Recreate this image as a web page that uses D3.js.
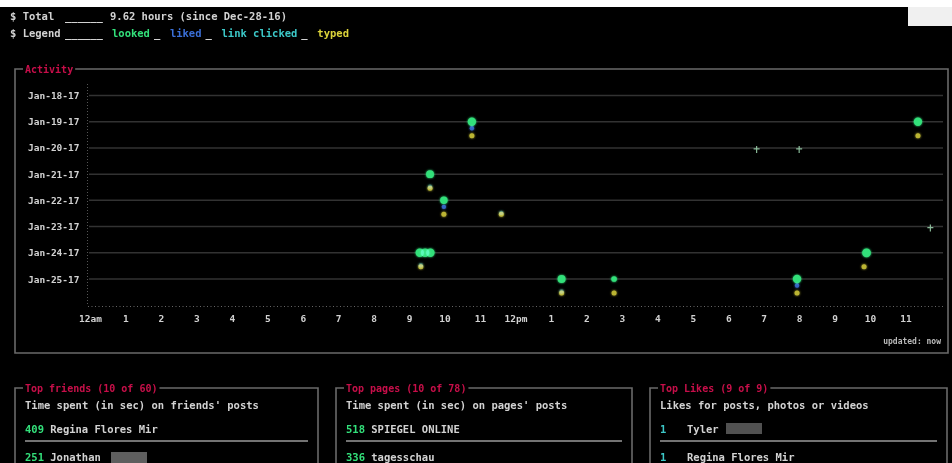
<!DOCTYPE html>
<html><head><meta charset="utf-8">
<script src="https://cdn.jsdelivr.net/npm/d3@7"></script>
<style>
html,body{margin:0;padding:0;background:#000;}
svg{display:block;}
text{font-family:"DejaVu Sans Mono",monospace;font-weight:bold;}
</style></head>
<body>
<script>
// ---- data ----
const days = ["Jan-18-17","Jan-19-17","Jan-20-17","Jan-21-17","Jan-22-17","Jan-23-17","Jan-24-17","Jan-25-17"];
const hourTicks = [0,1,2,3,4,5,6,7,8,9,10,11,12,13,14,15,16,17,18,19,20,21,22,23];
const hourLabels = ["12am","1","2","3","4","5","6","7","8","9","10","11","12pm","1","2","3","4","5","6","7","8","9","10","11"];
// [day, hour of day, seconds]
const looked = [
  ["Jan-19-17",10.77,40],["Jan-19-17",23.35,40],
  ["Jan-20-17",18.8,2],["Jan-20-17",20.0,2],
  ["Jan-21-17",9.59,35],
  ["Jan-22-17",9.98,30],
  ["Jan-23-17",23.7,2],
  ["Jan-24-17",9.3,40],["Jan-24-17",9.45,40],["Jan-24-17",9.6,40],["Jan-24-17",21.9,45],
  ["Jan-25-17",13.3,35],["Jan-25-17",14.78,14],["Jan-25-17",19.94,40]
];
const liked = [["Jan-19-17",10.77],["Jan-22-17",9.98],["Jan-25-17",19.94]];
const clicked = [["Jan-21-17",9.59],["Jan-22-17",11.6],["Jan-24-17",9.33],["Jan-25-17",13.3]];
const typed = [
  ["Jan-19-17",10.77],["Jan-19-17",23.35],
  ["Jan-21-17",9.59],
  ["Jan-22-17",9.98],["Jan-22-17",11.6],
  ["Jan-24-17",9.33],["Jan-24-17",21.83],
  ["Jan-25-17",13.3],["Jan-25-17",14.78],["Jan-25-17",19.94]
];
const summary = ["9.62 hours (since Dec-28-16)"];
const legendItems = ["looked","liked","link clicked","typed"];
const panels = [
  {title:"Top friends (10 of 60)", sub:"Time spent (in sec) on friends' posts", rows:[["409","Regina Flores Mir"],["251","Jonathan"]]},
  {title:"Top pages (10 of 78)", sub:"Time spent (in sec) on pages' posts", rows:[["518","SPIEGEL ONLINE"],["336","tagesschau"]]},
  {title:"Top Likes (9 of 9)", sub:"Likes for posts, photos or videos", rows:[["1","Tyler"],["1","Regina Flores Mir"]]}
];

// ---- styles ----
const W=952,H=463;
const C = {text:"#d2d2d2", red:"#c8104a", green:"#33e07a", blue:"#3a6fd8", cyan:"#3cc8c8", yellow:"#dcd43a", grid:"#333", border:"#6a6a6a"};
const legendColors = [C.green,C.blue,C.cyan,C.yellow];

const svg = d3.select("body").append("svg").attr("width",W).attr("height",H);
const defs = svg.append("defs");
const glow = defs.append("filter").attr("id","glow").attr("x","-100%").attr("y","-100%").attr("width","300%").attr("height","300%");
glow.append("feGaussianBlur").attr("stdDeviation",1.3).attr("result","b");
const fm = glow.append("feMerge"); fm.append("feMergeNode").attr("in","b"); fm.append("feMergeNode").attr("in","SourceGraphic");
const soft = defs.append("filter").attr("id","soft");
soft.append("feGaussianBlur").attr("stdDeviation",0.5);

svg.append("rect").attr("width",W).attr("height",H).attr("fill","#000");
const root = svg.append("g").attr("filter","url(#soft)");

// header lines
const hdr = root.append("g").attr("font-size",10.5).attr("fill",C.text);
hdr.append("text").attr("x",10).attr("y",20).text("$ Total");
hdr.append("text").attr("x",65).attr("y",20).text("______");
hdr.append("text").attr("x",110).attr("y",20).text(summary[0]);
hdr.append("text").attr("x",10).attr("y",37).text("$ Legend");
hdr.append("text").attr("x",65).attr("y",37).text("______");
let lx=112;
legendItems.forEach((t,i)=>{
  hdr.append("text").attr("x",lx).attr("y",37).attr("fill",legendColors[i]).text(t);
  lx += t.length*6.32;
  if(i<legendItems.length-1){ hdr.append("text").attr("x",lx+4).attr("y",37).text("_"); lx += 20; }
});

// frames
function frame(g,b,title){
  g.append("path").attr("d",`M${b.x+8},${b.y}H${b.x+b.w}V${b.y+b.h}H${b.x}V${b.y}H${b.x+8}`)
    .attr("fill","none").attr("stroke",C.border).attr("stroke-width",1.6);
  const tw = title.length*6.02;
  g.append("rect").attr("x",b.x+8).attr("y",b.y-3).attr("width",tw+4).attr("height",6).attr("fill","#000");
  g.append("text").attr("x",b.x+10).attr("y",b.y+3.5).attr("font-size",10).attr("fill",C.red).text(title);
}
const box = {x:15,y:69,w:933,h:284};
frame(root.append("g"),box,"Activity");

const x = d3.scaleLinear().domain([0,24]).range([90,941]);
const y = d3.scalePoint().domain(days).range([95.5,279]);

const plot = root.append("g");
plot.selectAll("line.grid").data(days).join("line").attr("class","grid")
  .attr("x1",89).attr("x2",943).attr("y1",d=>y(d)).attr("y2",d=>y(d))
  .attr("stroke",C.grid).attr("stroke-width",1.5);
const yAxis = d3.axisLeft(y).tickSize(0).tickPadding(8);
const gy = plot.append("g").attr("transform","translate(87.5,0)").call(yAxis);
gy.select(".domain").remove();
gy.append("line").attr("x1",0).attr("x2",0).attr("y1",84).attr("y2",306).attr("stroke","#555").attr("stroke-dasharray","1,2");
gy.selectAll("text").attr("fill",C.text).attr("font-size",9.5).attr("font-family","DejaVu Sans Mono").attr("font-weight","bold");
const xAxis = d3.axisBottom(x).tickValues(hourTicks).tickFormat((d,i)=>hourLabels[i]).tickSize(0).tickPadding(9);
const gx = plot.append("g").attr("transform","translate(0,306.5)").call(xAxis);
gx.select(".domain").remove();
gx.append("line").attr("x1",88).attr("x2",944).attr("y1",0).attr("y2",0).attr("stroke","#666").attr("stroke-dasharray","1,2.5");
gx.selectAll("text").attr("fill",C.text).attr("font-size",9.5).attr("font-family","DejaVu Sans Mono").attr("font-weight","bold");

root.append("text").attr("x",941).attr("y",344).attr("text-anchor","end").attr("font-size",8).attr("fill","#bbb").text("updated: now");

// points
const r = d3.scaleSqrt().domain([0,45]).range([0.8,4.4]);
const pts = svg.append("g").style("isolation","isolate");
function layer(data,color,dy,rad,op){
  pts.append("g").selectAll("circle").data(data).join("circle")
    .attr("cx",d=>x(d[1])).attr("cy",d=>y(d[0])+dy)
    .attr("r",d=>rad(d)).attr("fill",color).attr("opacity",op).attr("filter","url(#glow)")
    .style("mix-blend-mode","screen");
}
layer(typed,C.yellow,14,()=>2.5,0.85);
layer(clicked,"#2a8080",12.5,()=>2.2,0.8);
layer(liked,C.blue,6.5,()=>2.2,0.9);
// large looks as dots, brief glances as small crosses
const bigLooks = looked.filter(d=>d[2]>=5), glances = looked.filter(d=>d[2]<5);
layer(bigLooks,C.green,0,d=>r(d[2]),1);
pts.append("g").selectAll("path").data(glances).join("path")
  .attr("transform",d=>`translate(${x(d[1])},${y(d[0])+1})`)
  .attr("d","M-3,0H3M0,-3V4")
  .attr("stroke","#9fd8b0").attr("stroke-width",1.2).attr("fill","none").attr("opacity",0.85);

// bottom panels
const pb = [{x:15,w:303},{x:336,w:296},{x:650,w:297}];
const numColors = [C.green,C.green,C.cyan];
panels.forEach((p,i)=>{
  const g = root.append("g");
  const b = {x:pb[i].x,y:388,w:pb[i].w,h:120};
  frame(g,b,p.title);
  g.append("text").attr("x",b.x+10).attr("y",409).attr("font-size",10.5).attr("fill",C.text).text(p.sub);
  const nameX = i===2 ? b.x+37 : b.x+10 + (p.rows[0][0].length+1)*6.32;
  p.rows.forEach((row,j)=>{
    const yy = 433 + j*28;
    g.append("text").attr("x",b.x+10).attr("y",yy).attr("font-size",10.5).attr("fill",numColors[i]).text(row[0]);
    g.append("text").attr("x",nameX).attr("y",yy).attr("font-size",10.5).attr("fill",C.text).text(row[1]);
  });
  g.append("line").attr("x1",b.x+10).attr("x2",b.x+b.w-10).attr("y1",441).attr("y2",441).attr("stroke","#9a9a9a").attr("stroke-width",1.6);
});
root.append("rect").attr("x",111).attr("y",452).attr("width",36).attr("height",11).attr("fill","#777").attr("opacity",0.8);
root.append("rect").attr("x",726).attr("y",423).attr("width",36).attr("height",11).attr("fill","#666").attr("opacity",0.8);

svg.append("rect").attr("x",0).attr("y",0).attr("width",W).attr("height",7).attr("fill","#fff");
svg.append("rect").attr("x",908).attr("y",7).attr("width",44).attr("height",19).attr("fill","#f0f0f0");
</script>
</body></html>
